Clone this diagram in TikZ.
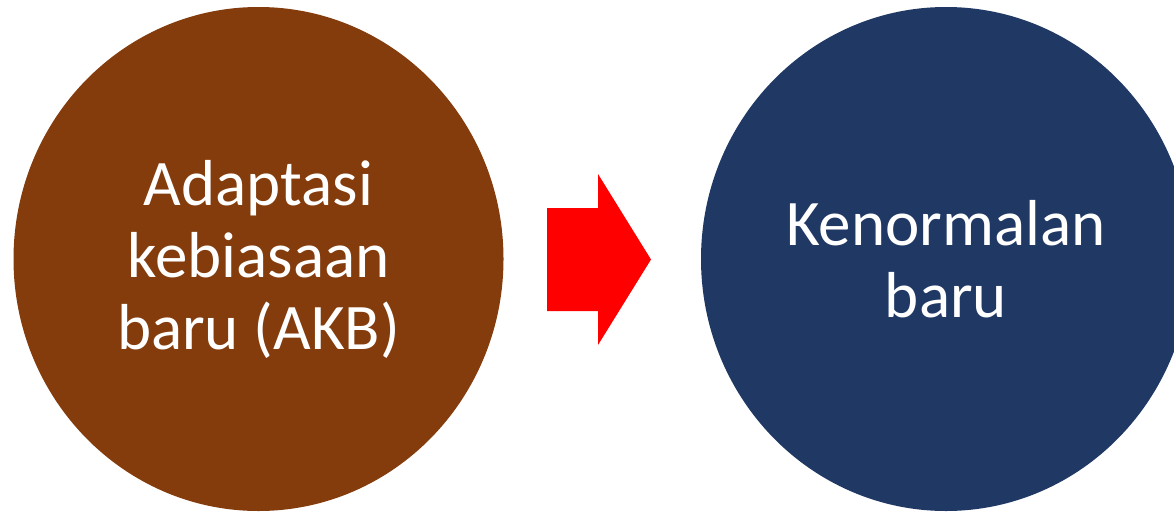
\documentclass[tikz,border=0pt]{standalone}
\usepackage{fontspec}
\setmainfont{Carlito}
\usepackage{tikz}
\usetikzlibrary{shapes.geometric}
\definecolor{akbbrown}{HTML}{843C0C}
\definecolor{newnavy}{HTML}{203864}
\definecolor{arrowred}{HTML}{FF0000}

\begin{document}
\begin{tikzpicture}[x=1pt, y=-1pt,
    bubble/.style={ellipse, inner sep=0pt, minimum width=490pt, minimum height=504pt, text=white, align=center, font=\fontsize{65}{72}\selectfont}
]
\useasboundingbox (0,0) rectangle (1174,511);
\clip (0,0) rectangle (1174,511);

% Circles
\node[bubble, fill=akbbrown] (akb) at (258.5,259) {Adaptasi\\kebiasaan\\baru (AKB)};
\node[bubble, fill=newnavy] (normal) at (946,259) {Kenormalan\\baru};

% Block arrow
\fill[arrowred] (547,208) -- (598,208) -- (598,174) -- (651,259.5) -- (598,345) -- (598,311) -- (547,311) -- cycle;

\end{tikzpicture}
\end{document}
